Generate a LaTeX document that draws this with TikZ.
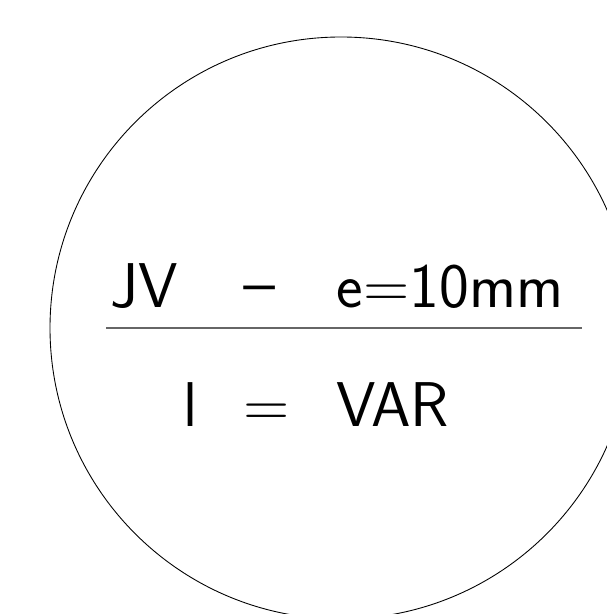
\documentclass[tikz,border=0pt]{standalone}
\begin{document}
\begin{tikzpicture}[
		x={(0.02cm,0cm)},
		y={(0cm,-0.02cm)},
		marking/.style={font=\sffamily\fontsize{36}{40}\selectfont, inner sep=0pt, anchor=base west},
	]
		\useasboundingbox (0,0) rectangle (607,614);
		\draw[line width=0.5pt] (341,328) circle[radius=291];
		
		\node[marking] (top) at (110,308) {JV\hspace{37pt}\raisebox{0.1em}{\scalebox{2}[1]{-}}\hspace{31pt}e=10mm};
		\node[marking] (bottom) at (183,426) {l\hspace{26pt}=\hspace{27pt}VAR};
		
		\coordinate (rule west) at (106,328);
		\coordinate (rule east) at (582,328);
		\draw[black!60, line width=0.8pt] (rule west) -- (rule east);
	\end{tikzpicture}
\end{document}
